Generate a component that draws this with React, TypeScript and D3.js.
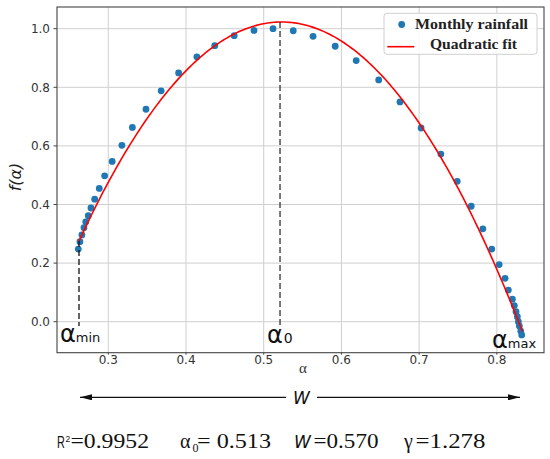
import React from "react";
import * as d3 from "d3";

// Monthly rainfall singularity spectrum points (alpha, f(alpha))
const alphaValues = [
  0.2614, 0.2635, 0.266, 0.2687, 0.271, 0.2743, 0.2777, 0.2825, 0.2884, 0.2953,
  0.305, 0.3175, 0.331, 0.3485, 0.368, 0.3905, 0.414, 0.437, 0.462, 0.4875,
  0.512, 0.538, 0.5635, 0.592, 0.619, 0.648, 0.6754, 0.7025, 0.728, 0.749,
  0.767, 0.782, 0.7935, 0.803, 0.8106, 0.8148, 0.82, 0.8225, 0.8247, 0.8264,
  0.8277, 0.829, 0.8308, 0.832,
];
const fValues = [
  0.248, 0.273, 0.296, 0.321, 0.341, 0.362, 0.388, 0.418, 0.455, 0.498,
  0.547, 0.602, 0.663, 0.725, 0.788, 0.849, 0.904, 0.942, 0.976, 0.994,
  1.0, 0.993, 0.974, 0.94, 0.891, 0.825, 0.75, 0.661, 0.572, 0.479,
  0.394, 0.317, 0.248, 0.195, 0.148, 0.108, 0.077, 0.055, 0.034, 0.017,
  0.0, -0.015, -0.032, -0.045,
];

// Quadratic fit f = c0 + c1*a + c2*a^2, drawn over [alphaMin, alphaMax]
const fitCoefficients = [-1.986, 11.506, -11.0];
const fitDomain = [0.2623, 0.833];
const alpha0Line = 0.521;

const xTicks = [0.3, 0.4, 0.5, 0.6, 0.7, 0.8];
const yTicks = [0.0, 0.2, 0.4, 0.6, 0.8, 1.0];
const xDomain = [0.234, 0.8607];
const yDomain = [-0.1058, 1.074];

const legendLabels = ["Monthly rainfall", "Quadratic fit"];
const statValues = ["=0.9952", "= 0.513", "=0.570", "=1.278"];

const W = 550;
const H = 459;
const M = { left: 57, right: 544, top: 7, bottom: 352.7 };

export default function App() {
  const x = d3.scaleLinear().domain(xDomain).range([M.left, M.right]);
  const y = d3.scaleLinear().domain(yDomain).range([M.bottom, M.top]);
  const fit = (a: number) =>
    fitCoefficients[0] + fitCoefficients[1] * a + fitCoefficients[2] * a * a;
  const fitPts: [number, number][] = d3
    .range(0, 201)
    .map((i) => {
      const a = fitDomain[0] + ((fitDomain[1] - fitDomain[0]) * i) / 200;
      return [a, fit(a)] as [number, number];
    });
  const line = d3
    .line<[number, number]>()
    .x((d) => x(d[0]))
    .y((d) => y(d[1]));
  const fmt = d3.format(".1f");
  const tickColor = "#333";
  const sans = "DejaVu Sans, sans-serif";
  const lsans = "Liberation Sans, Arial, sans-serif";
  const serif = "Liberation Serif, serif";
  const dashBottom = y(-0.015);
  const statY = 448;
  const stretch = "spacingAndGlyphs";

  return (
    <svg
      width={W}
      height={H}
      style={{ position: "absolute", left: 0, top: 0, background: "#fff" }}
    >
      <rect x={0} y={0} width={W} height={H} fill="#fff" />
      {/* grid */}
      {xTicks.map((t) => (
        <line key={"gx" + t} x1={x(t)} x2={x(t)} y1={M.top} y2={M.bottom} stroke="#cfcfcf" strokeWidth={1} />
      ))}
      {yTicks.map((t) => (
        <line key={"gy" + t} x1={M.left} x2={M.right} y1={y(t)} y2={y(t)} stroke="#cfcfcf" strokeWidth={1} />
      ))}
      {/* points */}
      {alphaValues.map((a, i) => (
        <circle key={"p" + i} cx={x(a)} cy={y(fValues[i])} r={3.4} fill="#1f77b4" />
      ))}
      {/* fit */}
      <path d={line(fitPts) || ""} fill="none" stroke="#ff0000" strokeWidth={1.6} />
      {/* dashed markers */}
      <line x1={x(fitDomain[0])} x2={x(fitDomain[0])} y1={y(fit(fitDomain[0]))} y2={dashBottom} stroke="#111" strokeWidth={1.3} strokeDasharray="6,3" />
      <line x1={x(alpha0Line)} x2={x(alpha0Line)} y1={y(fit(alpha0Line))} y2={dashBottom + 2} stroke="#333" strokeWidth={1.3} strokeDasharray="6,3" />
      {/* frame */}
      <rect x={M.left} y={M.top} width={M.right - M.left} height={M.bottom - M.top} fill="none" stroke="#444" strokeWidth={1.1} />
      {/* ticks */}
      {xTicks.map((t) => (
        <g key={"tx" + t}>
          <line x1={x(t)} x2={x(t)} y1={M.bottom} y2={M.bottom + 2} stroke="#444" />
          <text x={x(t)} y={M.bottom + 11} textAnchor="middle" fontFamily={sans} fontSize={12} fill={tickColor}>
            {fmt(t)}
          </text>
        </g>
      ))}
      {yTicks.map((t) => (
        <g key={"ty" + t}>
          <line x1={M.left - 3.5} x2={M.left} y1={y(t)} y2={y(t)} stroke="#444" />
          <text x={M.left - 7} y={y(t) + 4.3} textAnchor="end" fontFamily={sans} fontSize={12} fill={tickColor}>
            {fmt(t)}
          </text>
        </g>
      ))}
      {/* axis labels */}
      <text transform={`translate(21,177) rotate(-90)`} textAnchor="middle" fontFamily={sans} fontStyle="italic" fontSize={16} fill="#222">
        f(α)
      </text>
      <text x={303} y={373} textAnchor="middle" fontFamily={serif} fontSize={15} fill="#333">
        α
      </text>
      {/* alpha annotations */}
      <text x={60} y={342} fontFamily={sans} fontSize={24} fill="#111">
        α<tspan fontSize={13}>min</tspan>
      </text>
      <text x={267} y={343} fontFamily={sans} fontSize={24} fill="#111">
        α<tspan fontSize={14} dx={1}>0</tspan>
      </text>
      <text x={492} y={348} fontFamily={sans} fontSize={24} fill="#111">
        α<tspan fontSize={13}>max</tspan>
      </text>
      {/* legend */}
      <rect x={384} y={13.3} width={153} height={41} rx={3} fill="#fff" fillOpacity={0.85} stroke="#d0d0d0" />
      <circle cx={401.7} cy={24.5} r={3.4} fill="#1f77b4" />
      <line x1={387.3} x2={414.3} y1={46.7} y2={46.7} stroke="#ff0000" strokeWidth={1.6} />
      <text x={415} y={29} textLength={113} lengthAdjust={stretch} fontFamily={serif} fontWeight="bold" fontSize={14.5} fill="#222">
        {legendLabels[0]}
      </text>
      <text x={430} y={48.5} textLength={87} lengthAdjust={stretch} fontFamily={serif} fontWeight="bold" fontSize={14.5} fill="#222">
        {legendLabels[1]}
      </text>
      {/* W arrow */}
      <defs>
        <marker id="ah" viewBox="0 0 12 6" refX={12} refY={3} markerWidth={12} markerHeight={6} markerUnits="userSpaceOnUse" orient="auto-start-reverse">
          <path d="M0,0 L12,3 L0,6 Z" fill="#111" />
        </marker>
      </defs>
      <line x1={286} x2={80} y1={397.3} y2={397.3} stroke="#111" strokeWidth={1.2} markerEnd="url(#ah)" />
      <line x1={317} x2={520} y1={397.3} y2={397.3} stroke="#111" strokeWidth={1.2} markerEnd="url(#ah)" />
      <text x={301.5} y={403.5} textAnchor="middle" fontFamily={sans} fontStyle="italic" fontSize={17} fill="#111">
        W
      </text>
      {/* statistics line */}
      <text transform={`translate(57,${statY}) scale(0.68,1)`} fontFamily={lsans} fontSize={16} fill="#111">
        R
      </text>
      <text x={65.6} y={statY - 6.5} fontFamily={lsans} fontSize={8.5} fill="#111">2</text>
      <text x={70.5} y={statY} textLength={78.5} lengthAdjust={stretch} fontFamily={serif} fontSize={20} fill="#111">
        {statValues[0]}
      </text>
      <text x={180} y={statY} fontFamily={serif} fontSize={20} fill="#111">α</text>
      <text x={192.5} y={statY + 4} fontFamily={serif} fontSize={12} fill="#111">0</text>
      <text x={197} y={statY} textLength={74} lengthAdjust={stretch} fontFamily={serif} fontSize={20} fill="#111">
        {statValues[1]}
      </text>
      <text x={294} y={statY} fontFamily={sans} fontStyle="italic" fontSize={17} fill="#111">W</text>
      <text x={313.5} y={statY} textLength={65} lengthAdjust={stretch} fontFamily={serif} fontSize={20} fill="#111">
        {statValues[2]}
      </text>
      <text x={404} y={statY} fontFamily={serif} fontSize={20} fill="#111">γ</text>
      <text x={415.5} y={statY} textLength={70} lengthAdjust={stretch} fontFamily={serif} fontSize={20} fill="#111">
        {statValues[3]}
      </text>
    </svg>
  );
}
